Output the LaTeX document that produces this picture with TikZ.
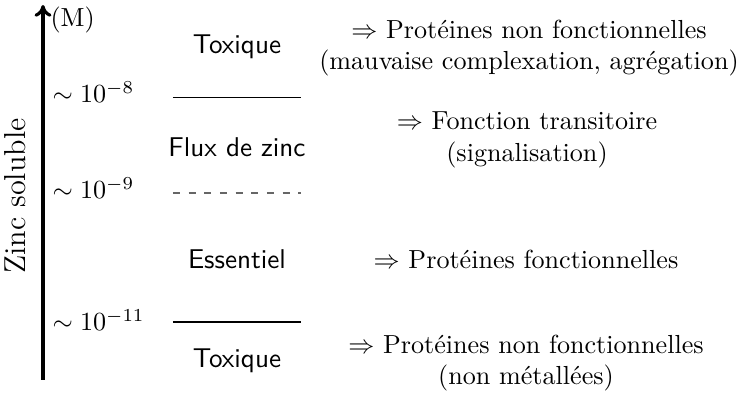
\documentclass[tikz,border=0pt]{standalone}
\usetikzlibrary{arrows.meta}
\begin{document}
\begin{tikzpicture}[x=0.383pt,y=-0.383pt,
  lvl/.style={inner sep=0pt,anchor=west},
  zone/.style={inner sep=0pt,font=\sffamily\fontsize{10.4}{12.5}\selectfont},
  effect/.style={inner sep=0pt,align=center},
  sep/.style={line width=0.4pt}]
\useasboundingbox (0,0) rectangle (745,396);
% axis
\coordinate (ab) at (43,380);
\coordinate (at) at (43,5);
\draw[line width=1.2pt,-{To[length=4.5pt,width=6.5pt]}] (ab) -- (at);
\node[lvl] (unit) at (50,20) {(M)};
\node[inner sep=0pt,rotate=90,font=\fontsize{11.6}{14}\selectfont] (ylab) at (15,196) {Zinc soluble};
% thresholds
\node[lvl] (l8) at (52,92) {$\sim 10^{-8}$};
\node[lvl] (l9) at (52,188) {$\sim 10^{-9}$};
\node[lvl] (l11) at (52,320) {$\sim 10^{-11}$};
\coordinate (h8a) at (173,97.5);  \coordinate (h8b) at (301,97.5);
\coordinate (h9a) at (173,193);   \coordinate (h9b) at (301,193);
\coordinate (h11a) at (173,322);  \coordinate (h11b) at (301,322);
\draw[sep] (h8a) -- (h8b);
\draw[sep,black!60,dash pattern=on 2.7pt off 3.3pt] (h9a) -- (h9b);
\draw[sep] (h11a) -- (h11b);
% zones
\node[zone] (z1) at (237,47) {Toxique};
\node[zone] (z2) at (237,147) {Flux de zinc};
\node[zone] (z3) at (237,259) {Essentiel};
\node[zone] (z4) at (237,361) {Toxique};
% effects
\node[effect] (e1) at (529,48) {$\Rightarrow$ Protéines non fonctionnelles\\(mauvaise complexation, agrégation)};
\node[effect] (e2) at (527,140) {$\Rightarrow$ Fonction transitoire\\(signalisation)};
\node[effect] (e3) at (526,259) {$\Rightarrow$ Protéines fonctionnelles};
\node[effect] (e4) at (526,363) {$\Rightarrow$ Protéines non fonctionnelles\\(non métallées)};
\end{tikzpicture}
\end{document}
